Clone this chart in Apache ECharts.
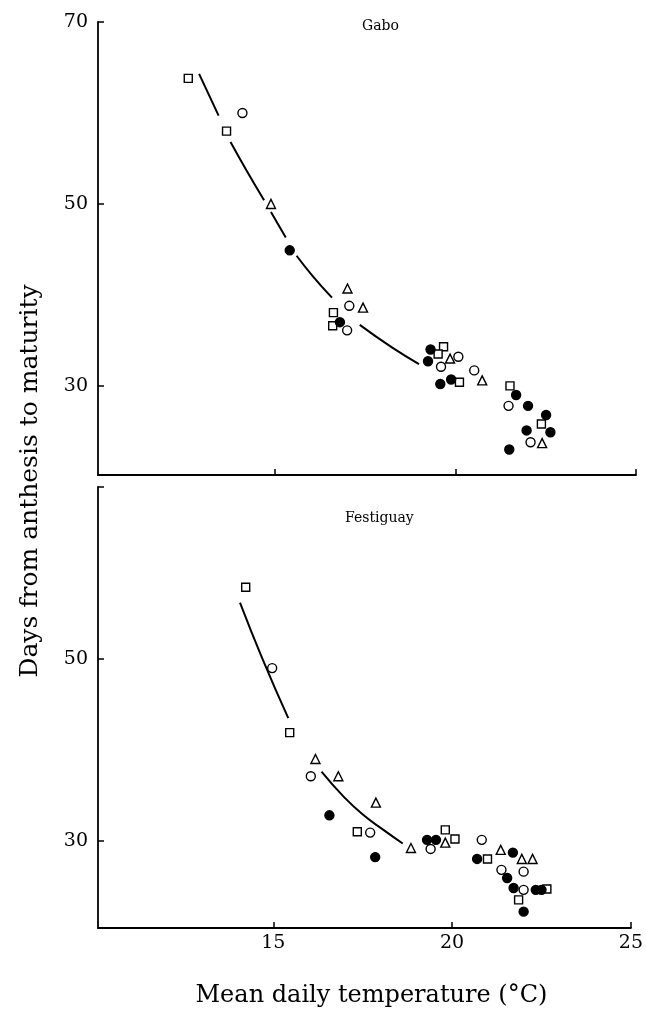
<!DOCTYPE html>
<html>
<head>
<meta charset="utf-8">
<script src="https://cdn.jsdelivr.net/npm/echarts@6/dist/echarts.min.js"></script>
<style>html,body{margin:0;padding:0;background:#fff}#c{width:646px;height:1018px}</style>
</head>
<body>
<div id="c"></div>
<script>
// ---- Data (Gabo) ----
const gaboSquares = [[12.6,63.8],[13.66,58.0],[16.62,38.05],[16.60,36.6],[19.67,34.3],[19.52,33.5],[20.11,30.4],[21.51,30.0],[22.38,25.8]];
const gaboCircles = [[14.1,60.0],[17.06,38.8],[17.0,36.1],[20.08,33.2],[19.6,32.1],[20.52,31.7],[21.47,27.8],[22.08,23.8]];
const gaboTriangles = [[14.89,50.0],[17.01,40.7],[17.44,38.6],[19.85,33.0],[20.74,30.6],[22.40,23.7]];
const gaboFilled = [[15.41,44.9],[16.80,37.0],[19.31,34.0],[19.24,32.7],[19.58,30.2],[19.88,30.7],[21.68,29.0],[22.01,27.8],[22.51,26.8],[21.97,25.1],[22.63,24.9],[21.49,23.0]];
const gaboCurve = [[12.9,64.3],[13.44,59.7],null,[13.77,56.8],[14.21,53.7],[14.70,50.4],null,[14.89,49.1],[15.30,46.3],null,[15.60,44.3],[16.04,42.1],[16.58,39.7],null,[17.35,36.7],[18.25,34.2],[18.99,32.4]];
// ---- Data (Festiguay) ----
const festSquares = [[14.23,57.9],[15.46,41.9],[17.35,31.0],[19.81,31.2],[20.08,30.2],[20.99,28.0],[22.65,24.7],[21.86,23.5]];
const festCircles = [[14.97,49.0],[16.05,37.1],[17.71,30.9],[19.40,29.1],[20.83,30.1],[22.0,26.6],[21.38,26.8],[22.0,24.6]];
const festTriangles = [[16.18,39.0],[16.82,37.1],[17.87,34.2],[18.85,29.2],[19.81,29.8],[21.36,29.0],[21.95,28.0],[22.25,28.0]];
const festFilled = [[16.57,32.8],[17.85,28.2],[19.3,30.1],[19.55,30.1],[20.70,28.0],[21.70,28.7],[21.54,25.9],[21.72,24.8],[22.34,24.6],[22.5,24.6],[22.0,22.2]];
const festCurve = [[14.07,56.2],[14.71,49.9],[15.42,43.5],null,[16.35,37.6],[16.98,34.8],[17.53,32.8],[18.08,31.2],[18.62,29.7]];
// ---- Axis ticks ----
const xTicks = [15, 20, 25];
const yTicksTop = [30, 50, 70];
const yTicksBottom = [30, 50];
const panelNames = ['Gabo', 'Festiguay'];
const xTitle = 'Mean daily temperature (°C)';
const yTitle = 'Days from anthesis to maturity';

const serif = 'DejaVu Serif';
const chart = echarts.init(document.getElementById('c'));

function xAxisCfg(idx, showLabels) {
  return {
    type: 'value', gridIndex: idx, min: 10.1, max: 25,
    axisLine: {show: true, onZero: false, lineStyle: {color: '#000', width: 1.8}},
    axisTick: {show: true, inside: true, length: 6, customValues: xTicks, lineStyle: {color: '#000', width: 1.5}},
    axisLabel: {show: showLabels, customValues: xTicks, color: '#000', fontFamily: serif, fontSize: 19, margin: 6},
    splitLine: {show: false},
    name: showLabels ? xTitle : '', nameLocation: 'middle', nameGap: 56,
    nameTextStyle: {color: '#000', fontFamily: serif, fontSize: 24, padding: [0, 0, 0, 14]}
  };
}
function yAxisCfg(idx, min, max, ticks, tickMarks) {
  return {
    type: 'value', gridIndex: idx, min: min, max: max,
    axisLine: {show: true, onZero: false, lineStyle: {color: '#000', width: 1.8}},
    axisTick: {show: true, inside: true, length: 6, customValues: tickMarks, lineStyle: {color: '#000', width: 1.5}},
    axisLabel: {show: true, customValues: ticks, color: '#000', fontFamily: serif, fontSize: 19, margin: 10},
    splitLine: {show: false}
  };
}
function scatter(idx, data, symbol, filled, size) {
  return {
    type: 'scatter', xAxisIndex: idx, yAxisIndex: idx, data: data, symbol: symbol, symbolSize: size,
    itemStyle: {color: filled ? '#000' : '#fff', borderColor: '#000', borderWidth: 1.4, opacity: 1},
    z: 5, silent: true
  };
}
function curve(idx, data) {
  return {
    type: 'line', xAxisIndex: idx, yAxisIndex: idx, data: data, smooth: true, showSymbol: false,
    connectNulls: false, lineStyle: {color: '#000', width: 2}, z: 3, silent: true
  };
}

chart.setOption({
  animation: false,
  backgroundColor: '#fff',
  grid: [
    {left: 98, right: 10, top: 22, height: 453},
    {left: 98, right: 10, top: 487, height: 441}
  ],
  xAxis: [xAxisCfg(0, false), xAxisCfg(1, true)],
  yAxis: [
    yAxisCfg(0, 20.2, 70, yTicksTop, yTicksTop),
    yAxisCfg(1, 20.4, 68.93, yTicksBottom, yTicksBottom.concat([68.93]))
  ],
  graphic: [
    {type: 'text', left: 362, top: 19, style: {text: panelNames[0], fill: '#000', font: '14px "DejaVu Serif"'}},
    {type: 'text', left: 345, top: 511, style: {text: panelNames[1], fill: '#000', font: '14px "DejaVu Serif"'}},
    {type: 'text', x: 30, y: 481, rotation: Math.PI / 2,
     style: {text: yTitle, fill: '#000', font: '25px "DejaVu Serif"', align: 'center', verticalAlign: 'middle'}}
  ],
  series: [
    curve(0, gaboCurve),
    scatter(0, gaboSquares, 'rect', false, 8),
    scatter(0, gaboCircles, 'circle', false, 9),
    scatter(0, gaboTriangles, 'triangle', false, 9),
    scatter(0, gaboFilled, 'circle', true, 9),
    curve(1, festCurve),
    scatter(1, festSquares, 'rect', false, 8),
    scatter(1, festCircles, 'circle', false, 9),
    scatter(1, festTriangles, 'triangle', false, 9),
    scatter(1, festFilled, 'circle', true, 9)
  ]
});
</script>
</body>
</html>
